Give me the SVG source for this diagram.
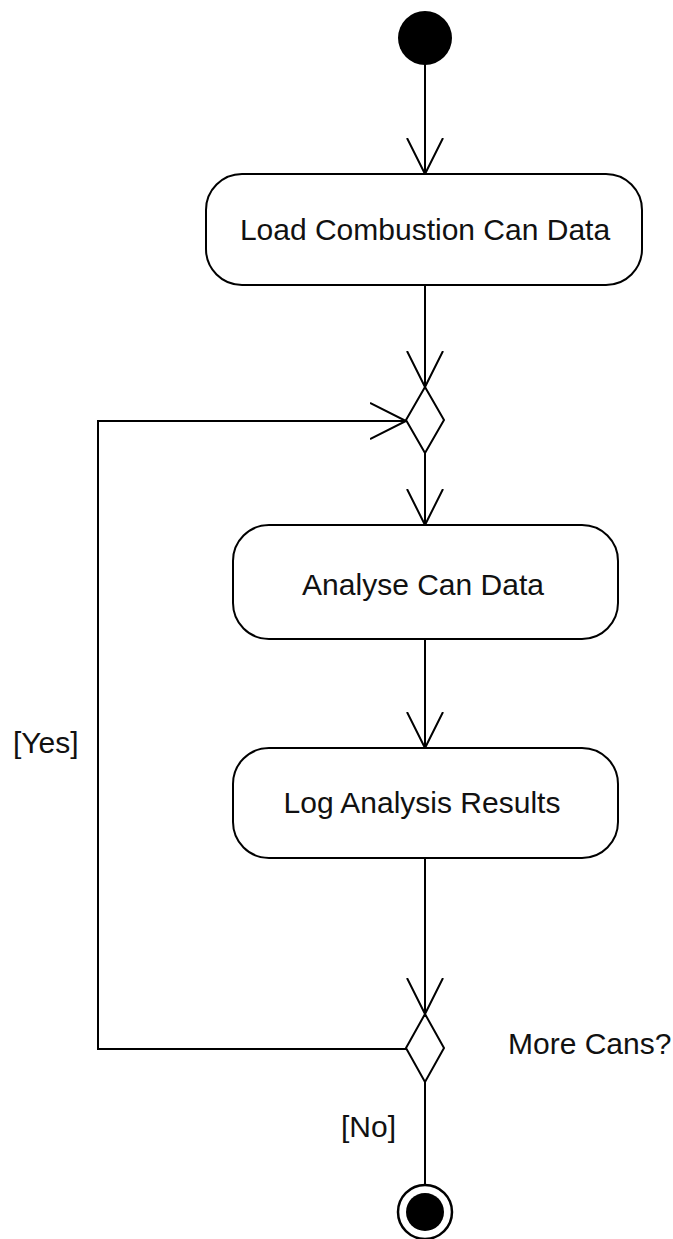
<svg xmlns="http://www.w3.org/2000/svg" width="673" height="1239" viewBox="0 0 673 1239">
  <style>
    .edge { fill: none; stroke: #000; stroke-width: 2; }
    .action { fill: #fff; stroke: #000; stroke-width: 2; }
    .decision { fill: #fff; stroke: #000; stroke-width: 2; }
    .label { font-family: "Liberation Sans", Arial, sans-serif; font-size: 30px; fill: #111; }
  </style>
  <defs>
    <marker id="open-arrow" viewBox="0 0 40 40" refX="36" refY="20" markerWidth="40" markerHeight="40" markerUnits="userSpaceOnUse" orient="auto">
      <path d="M0,2 L36,20 L0,38" fill="none" stroke="#000" stroke-width="2"/>
    </marker>
  </defs>

  <!-- connectors -->
  <g id="connectors">
    <line class="edge" x1="425" y1="64" x2="425" y2="174" marker-end="url(#open-arrow)"/>
    <line class="edge" x1="425" y1="285" x2="425" y2="387" marker-end="url(#open-arrow)"/>
    <line class="edge" x1="425" y1="453" x2="425" y2="525" marker-end="url(#open-arrow)"/>
    <line class="edge" x1="425" y1="639" x2="425" y2="748" marker-end="url(#open-arrow)"/>
    <line class="edge" x1="425" y1="858" x2="425" y2="1014" marker-end="url(#open-arrow)"/>
    <polyline class="edge" points="406,1049 98,1049 98,421 406,421" marker-end="url(#open-arrow)"/>
    <line class="edge" x1="425" y1="1082" x2="425" y2="1184"/>
    <text class="label" x="13" y="753">[Yes]</text>
    <text class="label" x="341" y="1137">[No]</text>
  </g>

  <!-- nodes -->
  <g id="start">
    <circle cx="425" cy="38" r="27" fill="#000"/>
  </g>
  <g id="load">
    <rect class="action" x="206" y="174" width="436" height="111" rx="36" ry="36"/>
    <text class="label" x="425" y="240" text-anchor="middle">Load Combustion Can Data</text>
  </g>
  <g id="merge">
    <polygon class="decision" points="425,387 444,420 425,453 406,420"/>
  </g>
  <g id="analyse">
    <rect class="action" x="233" y="525" width="385" height="114" rx="36" ry="36"/>
    <text class="label" x="423" y="595" text-anchor="middle">Analyse Can Data</text>
  </g>
  <g id="log">
    <rect class="action" x="233" y="748" width="385" height="110" rx="36" ry="36"/>
    <text class="label" x="422" y="813" text-anchor="middle">Log Analysis Results</text>
  </g>
  <g id="decision">
    <polygon class="decision" points="425,1014 444,1048 425,1082 406,1048"/>
    <text class="label" x="508" y="1054">More Cans?</text>
  </g>
  <g id="end">
    <circle cx="425" cy="1212" r="27" fill="#fff" stroke="#000" stroke-width="2.5"/>
    <circle cx="425" cy="1212" r="19" fill="#000"/>
  </g>
</svg>
